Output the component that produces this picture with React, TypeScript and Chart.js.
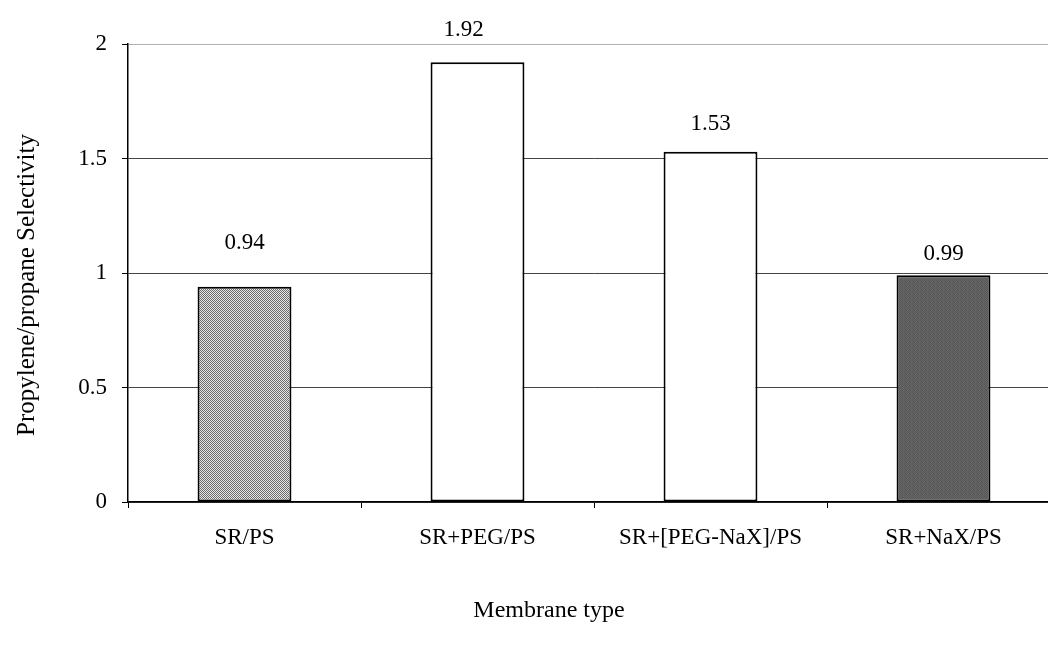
import React, { useEffect, useRef } from "react";
import { Chart, registerables } from "chart.js";

Chart.register(...registerables);

const categories = ["SR/PS", "SR+PEG/PS", "SR+[PEG-NaX]/PS", "SR+NaX/PS"];
const selectivity = [0.94, 1.92, 1.53, 0.99];
const valueLabels = ["0.94", "1.92", "1.53", "0.99"];
const yTickValues = [0, 0.5, 1, 1.5, 2];
const yTitle = "Propylene/propane Selectivity";
const xTitle = "Membrane type";

// style: label offset from bar top (pixels)
const labelShift = [
  { dx: 0, dy: -44 },
  { dx: -14, dy: -32 },
  { dx: 0, dy: -28 },
  { dx: 0, dy: -21 },
];

const FONT = '"Liberation Serif", "Times New Roman", serif';

function makeChecker(): CanvasPattern | string {
  const c = document.createElement("canvas");
  c.width = 2;
  c.height = 2;
  const g = c.getContext("2d");
  if (!g) return "#b0b0b0";
  g.fillStyle = "#e8e8e8";
  g.fillRect(0, 0, 2, 2);
  g.fillStyle = "#6a6a6a";
  g.fillRect(0, 0, 1, 1);
  g.fillRect(1, 1, 1, 1);
  return g.createPattern(c, "repeat") || "#b0b0b0";
}

function makeDark(): CanvasPattern | string {
  const c = document.createElement("canvas");
  c.width = 4;
  c.height = 4;
  const g = c.getContext("2d");
  if (!g) return "#5e5e5e";
  const shades = [
    "#555", "#6a6a6a", "#5a5a5a", "#666",
    "#686868", "#525252", "#646464", "#585858",
    "#5c5c5c", "#676767", "#535353", "#6b6b6b",
    "#626262", "#575757", "#696969", "#5b5b5b",
  ];
  for (let i = 0; i < 16; i++) {
    g.fillStyle = shades[i];
    g.fillRect(i % 4, Math.floor(i / 4), 1, 1);
  }
  return g.createPattern(c, "repeat") || "#5e5e5e";
}

const textPlugin = {
  id: "textPlugin",
  afterDatasetsDraw(chart: any) {
    const ctx = chart.ctx;
    const meta = chart.getDatasetMeta(0);
    ctx.save();
    ctx.fillStyle = "#000";
    ctx.textAlign = "center";
    ctx.textBaseline = "middle";
    ctx.font = `23px ${FONT}`;
    meta.data.forEach((bar: any, i: number) => {
      const s = labelShift[i];
      ctx.fillText(valueLabels[i], bar.x + s.dx, bar.y + s.dy);
    });
    // axis titles
    ctx.font = `24px ${FONT}`;
    ctx.fillText(xTitle, 549, 611);
    ctx.save();
    ctx.translate(27, 285);
    ctx.rotate(-Math.PI / 2);
    ctx.font = `25px ${FONT}`;
    ctx.fillText(yTitle, 0, 0);
    ctx.restore();
    ctx.restore();
  },
};

export default function App() {
  const ref = useRef<HTMLCanvasElement | null>(null);

  useEffect(() => {
    if (!ref.current) return;
    const fills = [makeChecker(), "#ffffff", "#ffffff", makeDark()];
    const chart = new Chart(ref.current, {
      type: "bar",
      data: {
        labels: categories,
        datasets: [
          {
            data: selectivity,
            backgroundColor: fills as any,
            borderColor: "#000",
            borderWidth: 2,
            borderSkipped: false,
            categoryPercentage: 1,
            barPercentage: 0.403,
          },
        ],
      },
      options: {
        animation: false,
        responsive: false,
        maintainAspectRatio: false,
        layout: { padding: { top: 44, left: 0, right: 0, bottom: 0 } },
        plugins: {
          legend: { display: false },
          tooltip: { enabled: false },
          title: { display: false },
        },
        scales: {
          x: {
            type: "category",
            afterFit: (s: any) => {
              s.height = 147;
            },
            grid: {
              offset: true,
              drawOnChartArea: false,
              drawTicks: true,
              tickLength: 6,
              tickColor: "#000",
              tickWidth: 1,
            },
            border: { display: true, color: "#000", width: 1.5 },
            ticks: {
              color: "#000",
              font: { family: FONT, size: 23 },
              padding: 16,
              maxRotation: 0,
              autoSkip: false,
            },
          },
          y: {
            min: 0,
            max: 2,
            afterFit: (s: any) => {
              s.width = 128;
            },
            afterBuildTicks: (s: any) => {
              s.ticks = yTickValues.map((v) => ({ value: v }));
            },
            grid: {
              color: (c: any) =>
                c.tick && c.tick.value === 2 ? "#b0b0b0" : "#444",
              lineWidth: 1,
              drawTicks: true,
              tickLength: 6,
              tickColor: "#000",
            },
            border: { display: true, color: "#000", width: 1.5 },
            ticks: {
              color: "#000",
              font: { family: FONT, size: 23 },
              padding: 15,
              callback: (v: any) => String(v),
            },
          },
        },
      },
      plugins: [textPlugin],
    });
    return () => chart.destroy();
  }, []);

  return (
    <div
      style={{
        position: "fixed",
        left: 0,
        top: 0,
        width: 1048,
        height: 649,
        overflow: "hidden",
        background: "#fff",
      }}
    >
      <canvas ref={ref} width={1060} height={649} style={{ display: "block" }} />
    </div>
  );
}
